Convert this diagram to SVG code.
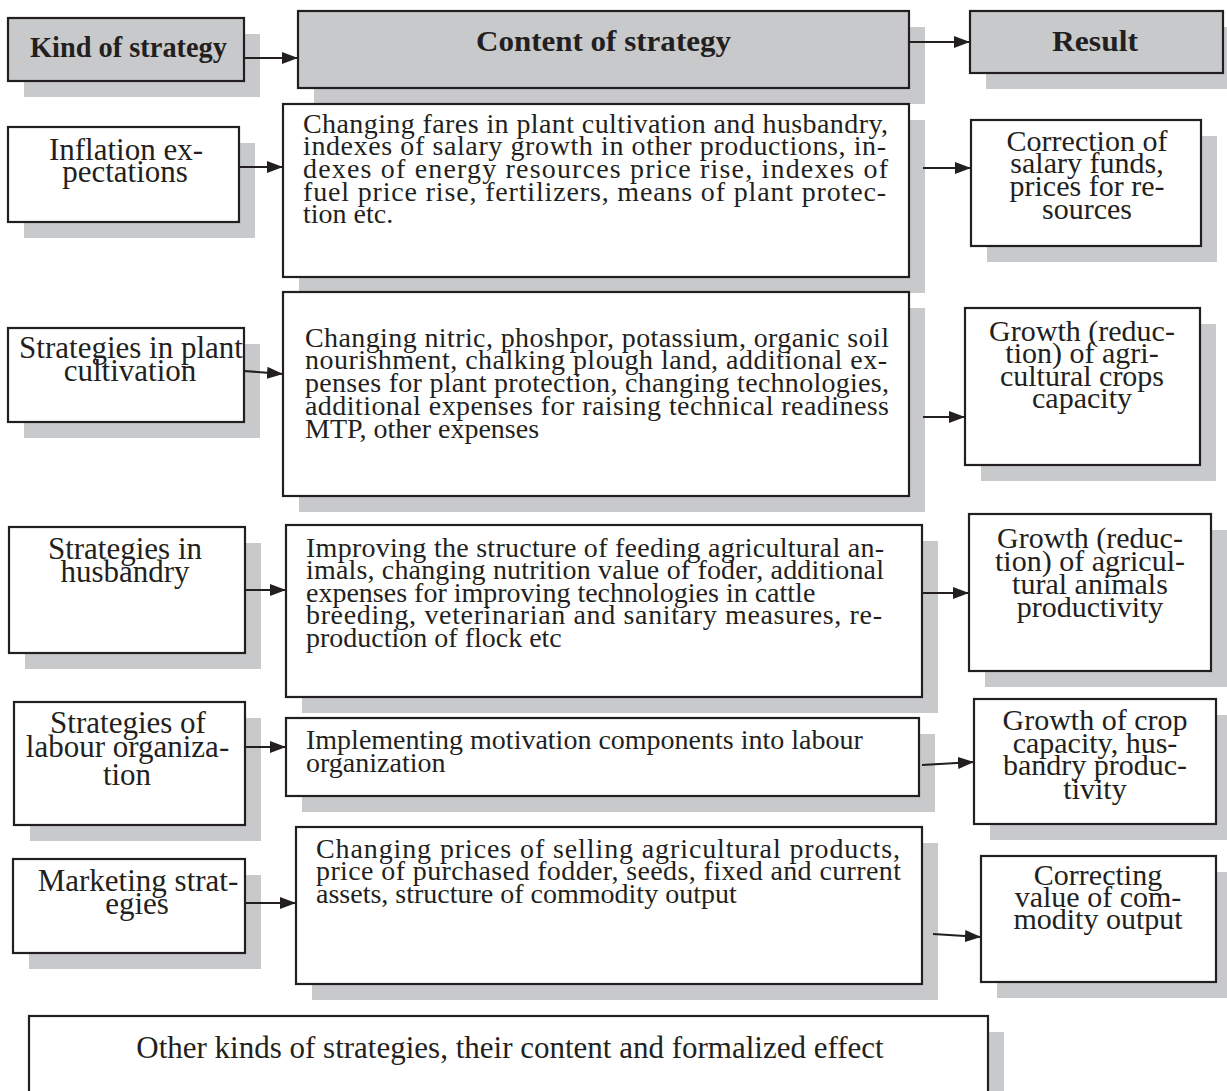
<svg xmlns="http://www.w3.org/2000/svg" width="1227" height="1091" viewBox="0 0 1227 1091">
<style>
.sh{fill:#c8c9cb}
.bx{fill:#fff;stroke:#231f20;stroke-width:2.2}
.hb{fill:#c8c9cb;stroke:#231f20;stroke-width:2.2}
text{font-family:"Liberation Serif","Times New Roman",serif;fill:#231f20}
.hd{font-size:30px;font-weight:bold;text-anchor:middle}
.lb{font-size:31px;text-anchor:middle}
.rs{font-size:30px;text-anchor:middle}
.ct{font-size:28px}
.cn{stroke:#231f20;stroke-width:2.2;fill:none;marker-end:url(#ah)}
</style>
<defs>
<marker id="ah" markerUnits="userSpaceOnUse" markerWidth="16" markerHeight="12" viewBox="0 0 16 12" refX="16" refY="6" orient="auto">
<path d="M0,0 L16,6 L0,12 z" fill="#231f20"/>
</marker>
</defs>
<rect width="1227" height="1091" fill="#fff"/>

<g id="shadows">
<rect class="sh" x="24" y="34" width="236" height="63"/>
<rect class="sh" x="314" y="27" width="611" height="77"/>
<rect class="sh" x="986" y="27" width="253" height="62"/>
<rect class="sh" x="24" y="143" width="231" height="95"/>
<rect class="sh" x="299" y="120" width="626" height="173"/>
<rect class="sh" x="987" y="136" width="230" height="126"/>
<rect class="sh" x="24" y="344" width="236" height="94"/>
<rect class="sh" x="299" y="308" width="626" height="204"/>
<rect class="sh" x="981" y="324" width="235" height="157"/>
<rect class="sh" x="25" y="543" width="236" height="126"/>
<rect class="sh" x="302" y="541" width="636" height="172"/>
<rect class="sh" x="985" y="530" width="242" height="157"/>
<rect class="sh" x="30" y="718" width="231" height="123"/>
<rect class="sh" x="302" y="734" width="633" height="78"/>
<rect class="sh" x="990" y="715" width="242" height="125"/>
<rect class="sh" x="29" y="875" width="232" height="94"/>
<rect class="sh" x="312" y="843" width="626" height="157"/>
<rect class="sh" x="997" y="872" width="235" height="126"/>
<rect class="sh" x="45" y="1032" width="959" height="80"/>
</g>

<g id="connectors">
<line class="cn" x1="244" y1="58" x2="298" y2="58"/>
<line class="cn" x1="909" y1="42" x2="970" y2="42"/>
<line class="cn" x1="240" y1="167" x2="283" y2="167"/>
<line class="cn" x1="923" y1="168" x2="971" y2="168"/>
<line class="cn" x1="244" y1="371" x2="283" y2="374"/>
<line class="cn" x1="923" y1="417" x2="965" y2="417"/>
<line class="cn" x1="245" y1="590" x2="286" y2="590"/>
<line class="cn" x1="922" y1="593" x2="969" y2="593"/>
<line class="cn" x1="245" y1="747" x2="286" y2="747"/>
<line class="cn" x1="922" y1="765" x2="974" y2="762"/>
<line class="cn" x1="245" y1="903" x2="296" y2="903"/>
<line class="cn" x1="933" y1="934" x2="981" y2="937"/>
</g>

<g id="h-kind">
<rect class="hb" x="8" y="18" width="236" height="63"/>
<text class="hd" x="128.5" y="57" textLength="197" lengthAdjust="spacingAndGlyphs">Kind of strategy</text>
</g>
<g id="h-content">
<rect class="hb" x="298" y="11" width="611" height="77"/>
<text class="hd" x="603.5" y="51" textLength="255" lengthAdjust="spacingAndGlyphs">Content of strategy</text>
</g>
<g id="h-result">
<rect class="hb" x="970" y="11" width="253" height="62"/>
<text class="hd" x="1095" y="51" textLength="86" lengthAdjust="spacingAndGlyphs">Result</text>
</g>

<g id="k1">
<rect class="bx" x="8" y="127" width="231" height="95"/>
<text class="lb" x="126" y="160">Inflation ex-</text>
<text class="lb" x="125" y="182">pectations</text>
</g>
<g id="c1">
<rect class="bx" x="283" y="104" width="626" height="173"/>
<text class="ct" x="303" y="133" textLength="585" lengthAdjust="spacing">Changing fares in plant cultivation and husbandry,</text>
<text class="ct" x="303" y="155" textLength="583" lengthAdjust="spacing">indexes of salary growth in other productions, in-</text>
<text class="ct" x="303" y="178" textLength="585" lengthAdjust="spacing">dexes of energy resources price rise, indexes of</text>
<text class="ct" x="303" y="201" textLength="583" lengthAdjust="spacing">fuel price rise, fertilizers, means of plant protec-</text>
<text class="ct" x="303" y="223">tion etc.</text>
</g>
<g id="r1">
<rect class="bx" x="971" y="120" width="230" height="126"/>
<text class="rs" x="1087" y="151">Correction of</text>
<text class="rs" x="1087" y="173">salary funds,</text>
<text class="rs" x="1087" y="196">prices for re-</text>
<text class="rs" x="1087" y="219">sources</text>
</g>

<g id="k2">
<rect class="bx" x="8" y="328" width="236" height="94"/>
<text class="lb" x="131" y="358">Strategies in plant</text>
<text class="lb" x="130" y="381">cultivation</text>
</g>
<g id="c2">
<rect class="bx" x="283" y="292" width="626" height="204"/>
<text class="ct" x="305" y="347" textLength="584" lengthAdjust="spacing">Changing nitric, phoshpor, potassium, organic soil</text>
<text class="ct" x="305" y="369" textLength="582" lengthAdjust="spacing">nourishment, chalking plough land, additional ex-</text>
<text class="ct" x="305" y="392" textLength="584" lengthAdjust="spacing">penses for plant protection, changing technologies,</text>
<text class="ct" x="305" y="415" textLength="584" lengthAdjust="spacing">additional expenses for raising technical readiness</text>
<text class="ct" x="305" y="438">MTP, other expenses</text>
</g>
<g id="r2">
<rect class="bx" x="965" y="308" width="235" height="157"/>
<text class="rs" x="1082" y="341">Growth (reduc-</text>
<text class="rs" x="1082" y="363">tion) of agri-</text>
<text class="rs" x="1082" y="386">cultural crops</text>
<text class="rs" x="1082" y="408">capacity</text>
</g>

<g id="k3">
<rect class="bx" x="9" y="527" width="236" height="126"/>
<text class="lb" x="125" y="559">Strategies in</text>
<text class="lb" x="125" y="582">husbandry</text>
</g>
<g id="c3">
<rect class="bx" x="286" y="525" width="636" height="172"/>
<text class="ct" x="306" y="557" textLength="578" lengthAdjust="spacing">Improving the structure of feeding agricultural an-</text>
<text class="ct" x="306" y="579" textLength="578" lengthAdjust="spacing">imals, changing nutrition value of foder, additional</text>
<text class="ct" x="306" y="602">expenses for improving technologies in cattle</text>
<text class="ct" x="306" y="624" textLength="576" lengthAdjust="spacing">breeding, veterinarian and sanitary measures, re-</text>
<text class="ct" x="306" y="647">production of flock etc</text>
</g>
<g id="r3">
<rect class="bx" x="969" y="514" width="242" height="157"/>
<text class="rs" x="1090" y="548">Growth (reduc-</text>
<text class="rs" x="1090" y="571">tion) of agricul-</text>
<text class="rs" x="1090" y="594">tural animals</text>
<text class="rs" x="1090" y="617">productivity</text>
</g>

<g id="k4">
<rect class="bx" x="14" y="702" width="231" height="123"/>
<text class="lb" x="128" y="733">Strategies of</text>
<text class="lb" x="127.5" y="757">labour organiza-</text>
<text class="lb" x="127" y="785">tion</text>
</g>
<g id="c4">
<rect class="bx" x="286" y="718" width="633" height="78"/>
<text class="ct" x="306" y="749">Implementing motivation components into labour</text>
<text class="ct" x="306" y="772">organization</text>
</g>
<g id="r4">
<rect class="bx" x="974" y="699" width="242" height="125"/>
<text class="rs" x="1095" y="730">Growth of crop</text>
<text class="rs" x="1095" y="753">capacity, hus-</text>
<text class="rs" x="1095" y="775">bandry produc-</text>
<text class="rs" x="1095" y="799">tivity</text>
</g>

<g id="k5">
<rect class="bx" x="13" y="859" width="232" height="94"/>
<text class="lb" x="138" y="891">Marketing strat-</text>
<text class="lb" x="137" y="914">egies</text>
</g>
<g id="c5">
<rect class="bx" x="296" y="827" width="626" height="157"/>
<text class="ct" x="316" y="858" textLength="584" lengthAdjust="spacing">Changing prices of selling agricultural products,</text>
<text class="ct" x="316" y="880" textLength="585" lengthAdjust="spacing">price of purchased fodder, seeds, fixed and current</text>
<text class="ct" x="316" y="903">assets, structure of commodity output</text>
</g>
<g id="r5">
<rect class="bx" x="981" y="856" width="235" height="126"/>
<text class="rs" x="1098" y="885">Correcting</text>
<text class="rs" x="1098" y="907">value of com-</text>
<text class="rs" x="1098" y="929">modity output</text>
</g>

<g id="other">
<rect class="bx" x="29" y="1016" width="959" height="90"/>
<text class="lb" x="510" y="1058">Other kinds of strategies, their content and formalized effect</text>
</g>
</svg>
